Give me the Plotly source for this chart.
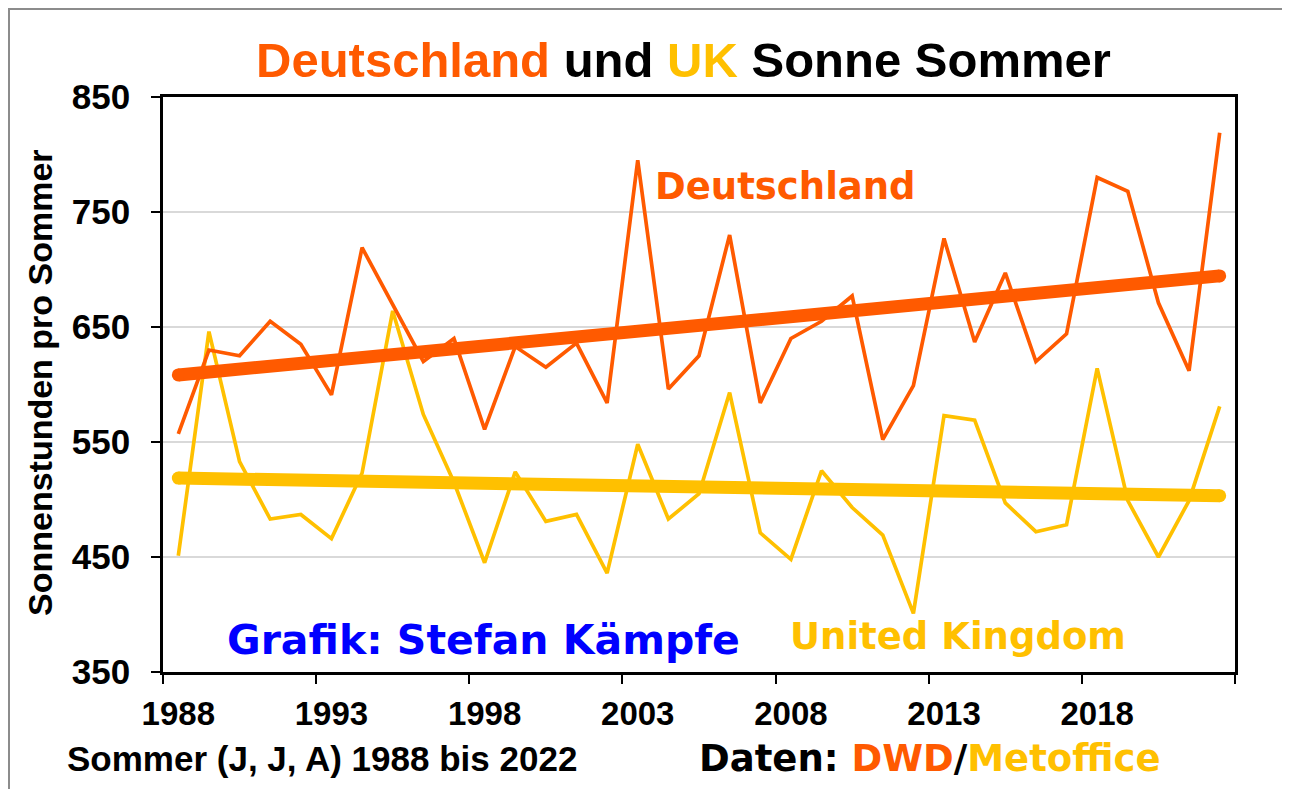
import numpy as np
import plotly.graph_objects as go

# ---- data ----
years = list(range(1988, 2023))
deutschland = [557, 630, 625, 655, 635, 591, 719, 669, 620, 640,
               561, 633, 615, 636, 584, 795, 596, 625, 730, 584,
               640, 655, 677, 552, 599, 727, 637, 697, 620, 644,
               780, 768, 671, 612, 819]
uk = [451, 646, 533, 483, 487, 466, 523, 664, 574, 515,
      445, 524, 481, 487, 436, 548, 483, 505, 593, 471,
      448, 525, 493, 469, 401, 573, 569, 497, 472, 478,
      614, 499, 450, 499, 581]
x_tick_years = years[::5][:7]          # 1988, 1993, ... 2018
y_ticks = [350, 450, 550, 650, 750, 850]

ORANGE = "#FF5A00"
GOLD = "#FFC000"
FONT = "Liberation Sans, Arial, sans-serif"
HEAVY = "DejaVu Sans, sans-serif"

# page has an 8px body margin; figure sized so page content matches reference
OFF = 8
W, H = 1290 - OFF, 789 - OFF
PLOT_X0, PLOT_X1, PLOT_Y0, PLOT_Y1 = 163, 1235, 97, 672   # reference pixels
L, T = PLOT_X0 - OFF, PLOT_Y0 - OFF
PW, PH = PLOT_X1 - PLOT_X0, PLOT_Y1 - PLOT_Y0
R, B = W - L - PW, H - T - PH


def px(x):
    return (x - PLOT_X0) / PW


def py(y):
    return (PLOT_Y1 - y) / PH


yrs = np.array(years, dtype=float)
de_fit = np.polyval(np.polyfit(yrs, deutschland, 1), yrs)
uk_fit = np.polyval(np.polyfit(yrs, uk, 1), yrs)

fig = go.Figure()
fig.add_trace(go.Scatter(x=years, y=uk, mode="lines",
                         line=dict(color=GOLD, width=3.7), hoverinfo="skip"))
fig.add_trace(go.Scatter(x=years, y=deutschland, mode="lines",
                         line=dict(color=ORANGE, width=3.7), hoverinfo="skip"))
for fit, col in ((uk_fit, GOLD), (de_fit, ORANGE)):
    fig.add_trace(go.Scatter(x=years, y=fit, mode="lines",
                             line=dict(color=col, width=13), hoverinfo="skip"))
    fig.add_trace(go.Scatter(x=[years[0], years[-1]], y=[fit[0], fit[-1]],
                             mode="markers", marker=dict(color=col, size=13, line=dict(width=0)),
                             hoverinfo="skip"))

fig.update_layout(
    width=W, height=H,
    margin=dict(l=L, r=R, t=T, b=B, autoexpand=False),
    paper_bgcolor="white", plot_bgcolor="white",
    showlegend=False,
    font=dict(family=FONT, color="black"),
)

fig.update_xaxes(
    range=[years[0] - 0.5, years[-1] + 0.5],
    tickvals=x_tick_years, ticktext=[str(v) for v in x_tick_years],
    ticks="", showgrid=False, zeroline=False,
    showline=True, linecolor="black", linewidth=2.5, mirror=True,
    tickfont=dict(family=FONT, size=33, color="black", weight="bold"),
    ticklabelstandoff=11,
    minor=dict(tick0=years[0] - 0.5, dtick=5, ticks="outside", ticklen=9,
               tickwidth=2, tickcolor="black", showgrid=False),
)
fig.update_yaxes(
    range=[y_ticks[0], y_ticks[-1]], tickvals=y_ticks,
    ticks="outside", ticklen=9, tickwidth=2, tickcolor="black",
    showgrid=True, gridcolor="#D9D9D9", gridwidth=1.5, zeroline=False,
    showline=True, linecolor="black", linewidth=2.5, mirror=True,
    tickfont=dict(family=FONT, size=35, color="black", weight="bold"),
    ticklabelstandoff=14,
)

ann = []
ann.append(dict(
    text=(f"<span style='color:{ORANGE}'>Deutschland</span> und "
          f"<span style='color:{GOLD}'>UK</span> Sonne Sommer"),
    x=px(683), y=py(60), xanchor="center", yanchor="middle",
    font=dict(family=FONT, size=49, color="black", weight="bold")))
ann.append(dict(text="Sonnenstunden pro Sommer", textangle=-90,
                x=px(40), y=py(383), xanchor="center", yanchor="middle",
                font=dict(family=FONT, size=34, color="black", weight="bold")))
ann.append(dict(text="Deutschland", x=px(785), y=py(186), xanchor="center", yanchor="middle",
                font=dict(family=HEAVY, size=37, color=ORANGE, weight="bold")))
ann.append(dict(text="United Kingdom", x=px(958), y=py(636), xanchor="center", yanchor="middle",
                font=dict(family=HEAVY, size=37, color=GOLD, weight="bold")))
ann.append(dict(text="Grafik: Stefan Kämpfe", x=px(483), y=py(640), xanchor="center",
                yanchor="middle", font=dict(family=HEAVY, size=41, color="#0000FF", weight="bold")))
ann.append(dict(text="Sommer (J, J, A) 1988 bis 2022", x=px(65), y=py(758), xanchor="left",
                yanchor="middle", font=dict(family=FONT, size=35, color="black", weight="bold")))
ann.append(dict(text=(f"Daten: <span style='color:{ORANGE}'>DWD</span>/"
                      f"<span style='color:{GOLD}'>Metoffice</span>"),
                x=px(697), y=py(758), xanchor="left", yanchor="middle",
                font=dict(family=HEAVY, size=37, color="black", weight="bold")))
for a in ann:
    a.update(xref="paper", yref="paper", showarrow=False)
fig.update_layout(annotations=ann)

# outer chart frame (kept inside the figure canvas)
fig.add_shape(type="rect", xref="paper", yref="paper",
              x0=px(OFF + 1), x1=px(1283), y0=py(800), y1=py(OFF + 1),
              line=dict(color="#8C8C8C", width=2), fillcolor="rgba(0,0,0,0)", layer="below")

fig.write_html("out.html")
